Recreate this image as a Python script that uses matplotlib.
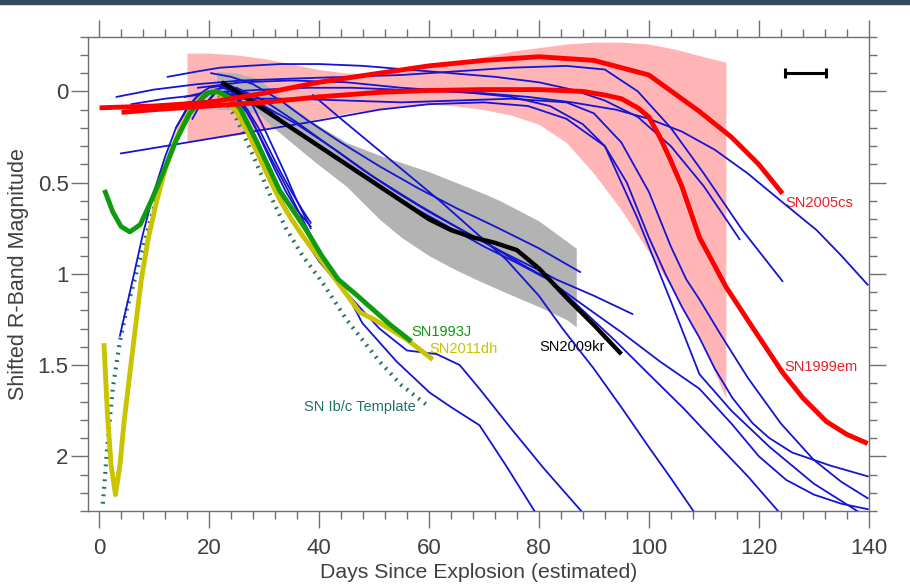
import matplotlib
matplotlib.use("Agg")
import matplotlib.pyplot as plt
from matplotlib.patches import Rectangle
from matplotlib.ticker import MultipleLocator

# ---------------------------------------------------------------------------
# Light-curve data (days since explosion, shifted R-band magnitude)
# ---------------------------------------------------------------------------
iip_band_days = [16, 20, 25, 30, 35, 40, 45, 50, 55, 60, 65, 70, 75, 80, 85, 90, 95, 100, 105, 110, 114]
iip_band_hi = [-0.21, -0.21, -0.2, -0.18, -0.15, -0.12, -0.1, -0.1, -0.11, -0.13, -0.16, -0.19, -0.22,
               -0.24, -0.26, -0.27, -0.27, -0.26, -0.23, -0.19, -0.16]
iip_band_lo = [0.27, 0.26, 0.24, 0.21, 0.18, 0.15, 0.12, 0.1, 0.08, 0.07, 0.08, 0.1, 0.13, 0.18, 0.28,
               0.45, 0.65, 0.88, 1.12, 1.4, 1.68]

kr_band_days = [21.4, 25, 29, 31, 35, 39, 45, 51, 55, 60, 65, 70, 73, 80, 85, 86.8]
kr_band_hi = [-0.11, -0.1, -0.07, -0.02, 0.08, 0.17, 0.28, 0.35, 0.39, 0.44, 0.5, 0.56, 0.6, 0.71, 0.82, 0.86]
kr_band_lo = [0.1, 0.1, 0.12, 0.18, 0.28, 0.38, 0.52, 0.7, 0.8, 0.9, 0.98, 1.05, 1.09, 1.18, 1.25, 1.29]

sn2005cs_days = [0.1, 10, 20, 30, 40, 51, 60, 70, 80, 90, 100, 109.2, 115, 120, 124.3]
sn2005cs_mag = [0.09, 0.08, 0.06, 0.01, -0.05, -0.1, -0.14, -0.17, -0.19, -0.17, -0.09, 0.11, 0.25, 0.4, 0.56]

sn1999em_days = [4.1, 10, 20, 30, 40, 51, 60, 70, 80, 88, 92, 95, 98, 100, 102, 104, 106, 109.2, 114,
                 119, 124.3, 128, 132.3, 136, 139.8]
sn1999em_mag = [0.115, 0.1, 0.08, 0.06, 0.03, 0.005, -0.005, -0.01, -0.01, 0.0, 0.02, 0.04, 0.09, 0.14,
                0.25, 0.38, 0.52, 0.8, 1.07, 1.3, 1.54, 1.68, 1.81, 1.88, 1.93]

sn2009kr_days = [22.3, 25, 30, 35, 40, 45, 51, 55, 60, 64, 68, 72, 76, 80, 85, 90, 95]
sn2009kr_mag = [-0.05, 0.0, 0.1, 0.2, 0.3, 0.4, 0.52, 0.6, 0.7, 0.76, 0.8, 0.83, 0.87, 0.97, 1.13, 1.28, 1.44]

sn1993j_days = [1.0, 2.5, 4.0, 5.6, 7.5, 9.5, 11.6, 14.0, 16.5, 19.5, 21.5, 23.5, 25.6, 28.6, 32.8, 37.7,
                40.5, 43.5, 47, 50, 53, 56.8]
sn1993j_mag = [0.54, 0.66, 0.74, 0.77, 0.73, 0.6, 0.45, 0.27, 0.12, 0.01, 0.0, 0.03, 0.09, 0.27, 0.54, 0.76,
               0.9, 1.03, 1.12, 1.2, 1.28, 1.37]

sn2011dh_days = [0.9, 1.5, 2.2, 3.0, 3.8, 4.6, 5.6, 6.6, 7.7, 9, 10.5, 12, 13.5, 15, 16.5, 18, 19.5, 21,
                 23, 25, 27, 29, 31, 33, 35, 37, 40, 43.5, 47.4, 50, 52.8, 56, 60.7]
sn2011dh_mag = [1.38, 1.75, 2.05, 2.21, 2.05, 1.8, 1.55, 1.3, 1.03, 0.8, 0.6, 0.43, 0.3, 0.19, 0.11, 0.05,
                0.01, 0.0, 0.03, 0.11, 0.22, 0.35, 0.48, 0.6, 0.7, 0.79, 0.91, 1.05, 1.21, 1.25, 1.3, 1.36, 1.47]

ibc_days = [0.7, 1.5, 2.5, 3.8, 5.0, 6.5, 8.5, 10.5, 12.5, 14.7, 16.5, 18.5, 20.5, 22.5, 25, 28, 31, 34, 37,
            40.7, 45, 51, 55, 60.1]
ibc_mag = [2.26, 1.95, 1.63, 1.37, 1.2, 1.03, 0.8, 0.58, 0.38, 0.21, 0.1, 0.03, 0.0, 0.03, 0.15, 0.35, 0.56,
           0.75, 0.9, 1.05, 1.25, 1.48, 1.61, 1.73]

# individual comparison objects (thin blue)
blue_days = [
    # fast decliners around the Ib/c peak
    [3.8, 6, 8, 10, 12, 14, 16, 18, 20, 22, 24, 26, 28, 30, 32, 34, 36, 38.5],
    [17, 19, 21, 23, 25, 27, 29, 31, 33, 35, 37, 38.5],
    [20, 22, 24, 26, 28, 30, 32, 34, 36, 38.5],
    [14, 16, 18, 20, 22, 24, 26, 28, 30, 33, 36, 40, 42.8, 47, 51, 56, 61.4, 65.6, 69.2, 75, 81, 87.7],
    [19, 21, 23, 25, 27, 29, 31, 34, 37, 40, 44.4, 47.9, 54.1, 60.1, 64, 69.2, 74, 79.2],
    # linear decliners through the grey band
    [20.4, 24, 28, 33, 38, 44, 51, 58, 65, 72, 80, 87.5],
    [15.6, 20, 25, 30, 36, 43, 50, 58, 66, 74, 80, 83.1, 90, 97],
    [22, 26, 30, 35, 40, 46, 52, 58, 64, 70, 76, 81.6, 88, 95, 102, 109.2, 115, 120, 125, 130, 135, 139.8],
    [25, 30, 36, 42, 48, 54, 60, 66, 72, 77, 81.9, 88, 94, 100, 106.4, 112, 118, 123.5],
    [38.9, 44, 50, 56, 62, 68, 74, 80, 84.3, 90, 95.2, 100, 104, 108.1],
    # plateau objects
    [4, 12, 20, 30, 40, 51, 60, 70, 78, 85, 92, 98, 104, 109.2, 115, 122, 130, 137.9],
    [12.5, 18, 22, 27, 33, 40, 48, 56, 64, 72, 80, 86, 92, 98, 104, 110, 116.5],
    [3.2, 10, 18, 26, 35, 45, 55, 65, 75, 85, 92, 98, 104, 110, 117, 124.3],
    [5.9, 12, 18, 24, 30, 38, 46, 54, 62, 70, 78, 86, 94, 100, 106, 112, 118, 124, 130.5, 135, 139.8],
    [18, 26, 35, 45, 55, 65, 75, 82, 88, 92, 96, 100, 103, 106, 109.2, 112, 115.2, 118.9, 121.9, 126.1,
     132.9, 139.8],
    [8, 16, 25, 35, 45, 55, 65, 75, 85, 90, 95, 100, 104, 106.8, 109.2, 113, 118, 124, 130, 135, 139.8],
]
blue_mag = [
    [1.34, 1.05, 0.78, 0.55, 0.36, 0.2, 0.09, 0.02, -0.02, -0.03, 0.0, 0.07, 0.17, 0.3, 0.43, 0.55, 0.65, 0.74],
    [0.15, 0.04, -0.01, -0.02, 0.02, 0.1, 0.2, 0.32, 0.44, 0.55, 0.65, 0.72],
    [0.05, -0.02, -0.03, 0.0, 0.08, 0.2, 0.33, 0.46, 0.6, 0.75],
    [0.2, 0.1, 0.03, 0.0, 0.01, 0.06, 0.15, 0.27, 0.4, 0.58, 0.75, 0.93, 1.03, 1.17, 1.3, 1.42, 1.44, 1.5,
     1.63, 1.85, 2.07, 2.3],
    [0.08, 0.01, 0.0, 0.04, 0.12, 0.23, 0.35, 0.52, 0.7, 0.87, 1.07, 1.27, 1.48, 1.65, 1.73, 1.83, 2.05, 2.3],
    [-0.1, -0.08, -0.04, 0.05, 0.16, 0.28, 0.41, 0.53, 0.64, 0.74, 0.86, 0.99],
    [0.03, 0.0, 0.02, 0.08, 0.18, 0.32, 0.47, 0.62, 0.76, 0.89, 0.98, 1.03, 1.12, 1.22],
    [-0.03, 0.0, 0.08, 0.2, 0.3, 0.42, 0.54, 0.65, 0.75, 0.85, 0.94, 1.03, 1.17, 1.32, 1.48, 1.63, 1.82, 2.0,
     2.13, 2.21, 2.26, 2.29],
    [-0.02, 0.05, 0.17, 0.3, 0.43, 0.55, 0.66, 0.76, 0.86, 0.95, 1.03, 1.2, 1.37, 1.55, 1.74, 1.92, 2.11, 2.3],
    [0.02, 0.15, 0.3, 0.45, 0.6, 0.76, 0.92, 1.12, 1.3, 1.52, 1.74, 1.95, 2.12, 2.3],
    [0.34, 0.3, 0.26, 0.21, 0.16, 0.1, 0.07, 0.06, 0.08, 0.15, 0.3, 0.7, 1.15, 1.55, 1.75, 1.95, 2.15, 2.3],
    [-0.08, -0.11, -0.13, -0.14, -0.15, -0.15, -0.14, -0.12, -0.1, -0.08, -0.05, -0.01, 0.05, 0.14, 0.3,
     0.52, 0.81],
    [0.03, -0.01, -0.04, -0.06, -0.07, -0.08, -0.09, -0.11, -0.13, -0.14, -0.12, 0.0, 0.2, 0.45, 0.76, 1.04],
    [0.07, 0.04, 0.02, 0.0, -0.01, -0.02, -0.02, -0.01, 0.0, 0.01, 0.03, 0.06, 0.1, 0.15, 0.22, 0.32, 0.45,
     0.6, 0.76, 0.9, 1.06],
    [-0.02, -0.05, -0.06, -0.05, -0.02, 0.0, 0.03, 0.08, 0.18, 0.3, 0.5, 0.8, 1.0, 1.18, 1.35, 1.52, 1.68,
     1.82, 1.9, 1.98, 2.05, 2.11],
    [0.1, 0.06, 0.04, 0.04, 0.05, 0.06, 0.05, 0.04, 0.06, 0.12, 0.28, 0.55, 0.85, 1.03, 1.14, 1.33, 1.57,
     1.82, 2.02, 2.14, 2.23],
]

# scale bar (typical uncertainty in explosion epoch)
bar_day, bar_halfwidth, bar_mag = 128.5, 3.65, -0.1

RED = "#ff0000"
GREEN = "#0f9a0f"
YELLOW = "#c9c300"
TEAL = "#1f7268"
BLUE = "#1414d2"
AXIS_GREY = "#707070"
TEXT_GREY = "#404040"

plain = ["Liberation Sans", "DejaVu Sans"]

fig = plt.figure(figsize=(9.10, 5.86), dpi=100)
ax = fig.add_axes([0.0967, 0.128, 0.858, 0.8094])

ax.fill_between(iip_band_days, iip_band_hi, iip_band_lo, color="#ffb5b5", lw=0, zorder=1)
ax.fill_between(kr_band_days, kr_band_hi, kr_band_lo, color="#b3b3b3", lw=0, zorder=2)

for d, m in zip(blue_days, blue_mag):
    ax.plot(d, m, color=BLUE, lw=1.3, zorder=4, solid_joinstyle="round")

# template drawn as a thick dotted line: each dot is a thin slice across the path
ax.plot(ibc_days, ibc_mag, color=TEAL, lw=3.0, linestyle=(0, (0.45, 1.35)),
        dash_capstyle="butt", zorder=3)
ax.plot(sn2011dh_days, sn2011dh_mag, color=YELLOW, lw=3.5, zorder=5, solid_capstyle="butt")
ax.plot(sn1993j_days, sn1993j_mag, color=GREEN, lw=3.5, zorder=6, solid_capstyle="butt")
ax.plot(sn2009kr_days, sn2009kr_mag, color="black", lw=3.2, zorder=6, solid_capstyle="butt")
ax.plot(sn2005cs_days, sn2005cs_mag, color=RED, lw=3.5, zorder=6, solid_capstyle="butt")
ax.plot(sn1999em_days, sn1999em_mag, color=RED, lw=3.5, zorder=6, solid_capstyle="butt")

ax.errorbar([bar_day], [bar_mag], xerr=[bar_halfwidth], color="black", lw=2.2,
            capsize=3.5, capthick=2.2, fmt="none", zorder=7)

label_kw = dict(fontsize=10.5, family=plain, va="center")
ax.text(124.9, 0.61, "SN2005cs", color="#e8202a", ha="left", **label_kw)
ax.text(124.7, 1.51, "SN1999em", color="#e8202a", ha="left", **label_kw)
ax.text(80.1, 1.40, "SN2009kr", color="black", ha="left", **label_kw)
ax.text(56.8, 1.32, "SN1993J", color=GREEN, ha="left", **label_kw)
ax.text(60.1, 1.41, "SN2011dh", color=YELLOW, ha="left", **label_kw)
ax.text(57.6, 1.73, "SN Ib/c Template", color=TEAL, ha="right", **label_kw)

ax.set_xlim(-2, 140)
ax.set_ylim(2.3, -0.3)
ax.xaxis.set_major_locator(MultipleLocator(20))
ax.xaxis.set_minor_locator(MultipleLocator(4))
ax.yaxis.set_minor_locator(MultipleLocator(0.1))
ax.set_yticks([0, 0.5, 1, 1.5, 2])
ax.set_yticklabels(["0", "0.5", "1", "1.5", "2"])

ax.tick_params(which="both", direction="out", top=True, right=True,
               color=AXIS_GREY, width=1.0, labelcolor=TEXT_GREY, labelsize=16)
ax.tick_params(which="major", length=12.5)
ax.tick_params(which="minor", length=5.8)
ax.tick_params(axis="x", pad=7)
ax.tick_params(axis="y", pad=1.5)
for lab in ax.get_xticklabels() + ax.get_yticklabels():
    lab.set_family(plain)
for sp in ax.spines.values():
    sp.set_color(AXIS_GREY)
    sp.set_linewidth(1.0)

ax.set_xlabel("Days Since Explosion (estimated)", fontsize=15.3, color=TEXT_GREY,
              family=plain, labelpad=3)
ax.set_ylabel("Shifted R-Band Magnitude", fontsize=15.5, color=TEXT_GREY,
              family=plain, labelpad=6)

# dark strip along the top edge
fig.patches.append(Rectangle((0, 1 - 4 / 586), 1, 4 / 586, transform=fig.transFigure,
                             color="#34495e", zorder=10))

fig.savefig("out.png", dpi=100)
